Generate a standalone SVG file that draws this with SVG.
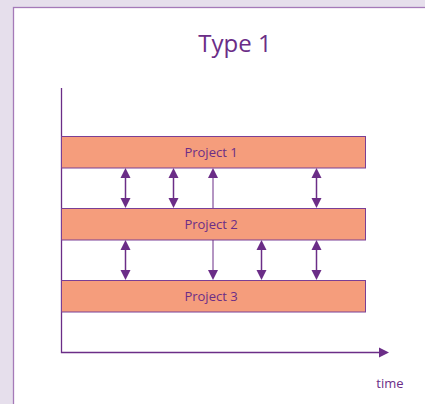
<svg xmlns="http://www.w3.org/2000/svg" width="425" height="404" viewBox="0 0 425 404">
<style>
.bar{fill:#f59d7c;stroke:#7a3f95;stroke-width:1}
.lbl{font-family:"Open Sans","Liberation Sans",sans-serif;font-size:13px;fill:#6b2d87;text-anchor:middle}
.ax{stroke:#6b2d87;stroke-width:1.3;fill:none}
.con{stroke:#6b2d87;stroke-width:1.5;fill:none}
.thin{stroke:#6b2d87;stroke-width:1;fill:none}
.hd{fill:#6b2d87}
</style>
<rect x="0" y="0" width="425" height="404" fill="#e6dfec"/>
<rect x="13.5" y="7.5" width="420" height="410" fill="#ffffff" stroke="#a57ab8" stroke-width="1.3"/>
<text x="235" y="52" font-family="'Open Sans','Liberation Sans',sans-serif" font-size="24" fill="#6b2d87" text-anchor="middle">Type 1</text>
<g id="axes">
<path class="ax" d="M61.5 88 V352.5 H380"/>
<polygon class="hd" points="379,347.5 389,352.5 379,357.5"/>
<text x="390" y="388" class="lbl" font-size="14">time</text>
</g>
<g id="project1"><rect class="bar" x="61.5" y="136.5" width="304" height="31.5"/><text class="lbl" x="211" y="157">Project 1</text></g>
<g id="project2"><rect class="bar" x="61.5" y="208.5" width="304" height="31.5"/><text class="lbl" x="211" y="229">Project 2</text></g>
<g id="project3"><rect class="bar" x="61.5" y="280.5" width="304" height="31.5"/><text class="lbl" x="211" y="301">Project 3</text></g>
<g id="connectors">
<line class="con" x1="125.5" y1="176" x2="125.5" y2="200"/>
<polygon class="hd" points="120.5,178 125.5,168 130.5,178"/><polygon class="hd" points="120.5,198 125.5,208 130.5,198"/>
<line class="con" x1="173.5" y1="176" x2="173.5" y2="200"/>
<polygon class="hd" points="168.5,178 173.5,168 178.5,178"/><polygon class="hd" points="168.5,198 173.5,208 178.5,198"/>
<line class="thin" x1="213" y1="176" x2="213" y2="208"/>
<polygon class="hd" points="208,178 213,168 218,178"/>
<line class="con" x1="316.5" y1="176" x2="316.5" y2="200"/>
<polygon class="hd" points="311.5,178 316.5,168 321.5,178"/><polygon class="hd" points="311.5,198 316.5,208 321.5,198"/>
<line class="con" x1="125.5" y1="248" x2="125.5" y2="272"/>
<polygon class="hd" points="120.5,250 125.5,240 130.5,250"/><polygon class="hd" points="120.5,270 125.5,280 130.5,270"/>
<line class="thin" x1="213" y1="240" x2="213" y2="272"/>
<polygon class="hd" points="208,270 213,280 218,270"/>
<line class="con" x1="261.5" y1="248" x2="261.5" y2="272"/>
<polygon class="hd" points="256.5,250 261.5,240 266.5,250"/><polygon class="hd" points="256.5,270 261.5,280 266.5,270"/>
<line class="con" x1="316.5" y1="248" x2="316.5" y2="272"/>
<polygon class="hd" points="311.5,250 316.5,240 321.5,250"/><polygon class="hd" points="311.5,270 316.5,280 321.5,270"/>
</g>
</svg>
